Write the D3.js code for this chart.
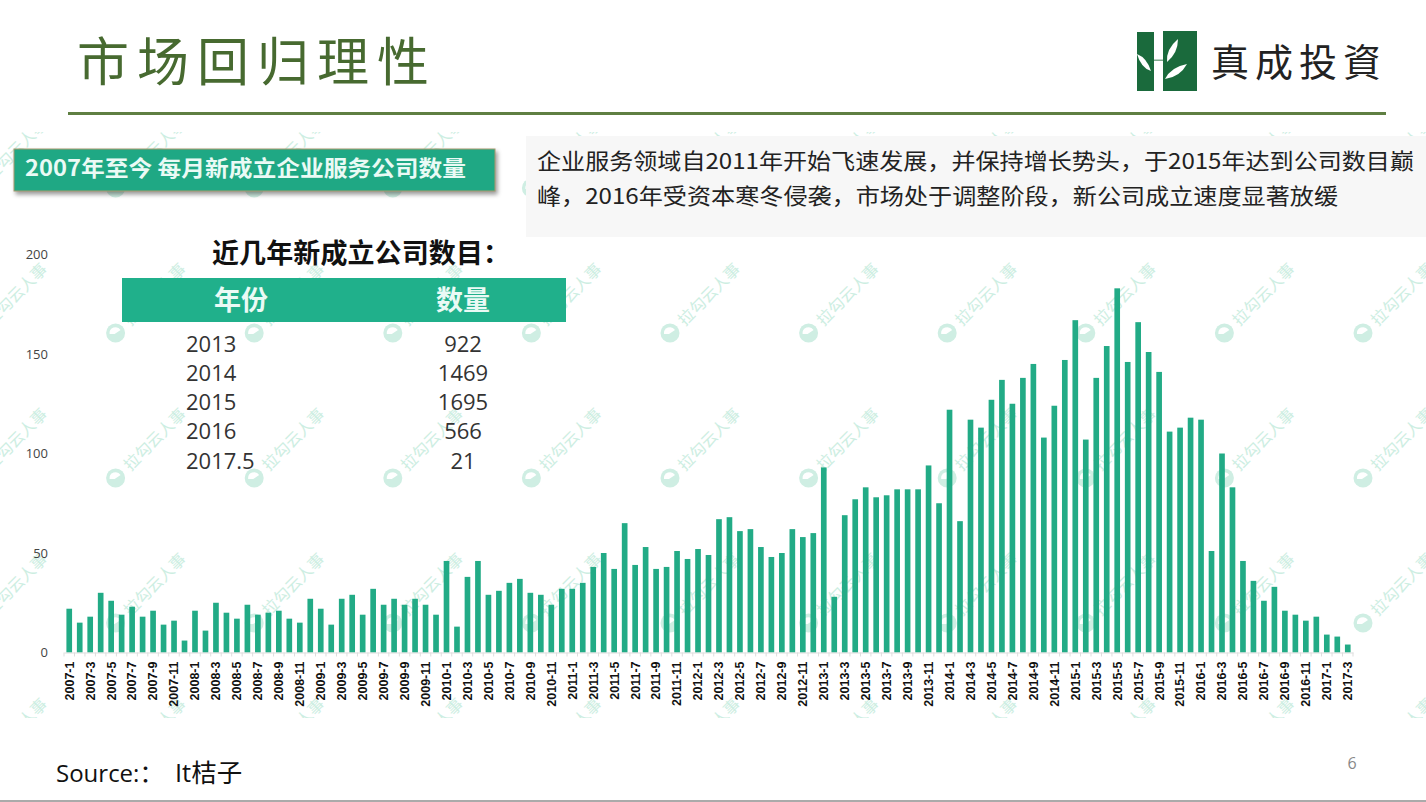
<!DOCTYPE html>
<html>
<head>
<meta charset="utf-8">
<style>
body { margin: 0; background: #fff; overflow: hidden; }
svg { display: block; }
text { font-family: "Open Sans", "Noto Sans CJK SC", sans-serif; }
.cjk { font-family: "Noto Sans CJK SC", sans-serif; }
</style>
<script src="https://cdnjs.cloudflare.com/ajax/libs/d3/7.8.5/d3.min.js"></script>
</head>
<body>
<div id="chart-area"></div>
<script>
// month labels, one per bar
let months = [
	'2007-1','2007-2','2007-3','2007-4','2007-5','2007-6','2007-7','2007-8','2007-9','2007-10','2007-11','2007-12',
	'2008-1','2008-2','2008-3','2008-4','2008-5','2008-6','2008-7','2008-8','2008-9','2008-10','2008-11','2008-12',
	'2009-1','2009-2','2009-3','2009-4','2009-5','2009-6','2009-7','2009-8','2009-9','2009-10','2009-11','2009-12',
	'2010-1','2010-2','2010-3','2010-4','2010-5','2010-6','2010-7','2010-8','2010-9','2010-10','2010-11','2010-12',
	'2011-1','2011-2','2011-3','2011-4','2011-5','2011-6','2011-7','2011-8','2011-9','2011-10','2011-11','2011-12',
	'2012-1','2012-2','2012-3','2012-4','2012-5','2012-6','2012-7','2012-8','2012-9','2012-10','2012-11','2012-12',
	'2013-1','2013-2','2013-3','2013-4','2013-5','2013-6','2013-7','2013-8','2013-9','2013-10','2013-11','2013-12',
	'2014-1','2014-2','2014-3','2014-4','2014-5','2014-6','2014-7','2014-8','2014-9','2014-10','2014-11','2014-12',
	'2015-1','2015-2','2015-3','2015-4','2015-5','2015-6','2015-7','2015-8','2015-9','2015-10','2015-11','2015-12',
	'2016-1','2016-2','2016-3','2016-4','2016-5','2016-6','2016-7','2016-8','2016-9','2016-10','2016-11','2016-12',
	'2017-1','2017-2','2017-3'
]

// new companies per month
let counts = [
	22, 15, 18, 30, 26, 19, 23, 18, 21, 14, 16, 6,
	21, 11, 25, 20, 17, 24, 19, 20, 21, 17, 15, 27,
	22, 14, 27, 29, 19, 32, 24, 27, 24, 27, 24, 19,
	46, 13, 38, 46, 29, 31, 35, 37, 30, 29, 24, 32,
	32, 35, 43, 50, 42, 65, 44, 53, 42, 43, 51, 47,
	52, 49, 67, 68, 61, 62, 53, 48, 50, 62, 58, 60,
	93, 28, 69, 77, 83, 78, 79, 82, 82, 82, 94, 75,
	122, 66, 117, 113, 127, 137, 125, 138, 145, 108, 124, 147,
	167, 107, 138, 154, 183, 146, 166, 151, 141, 111, 113, 118,
	117, 51, 100, 83, 46, 36, 26, 33, 21, 19, 16, 18,
	9, 8, 4
]

let yTicks = [0, 50, 100, 150, 200]

let tableYears = ['2013', '2014', '2015', '2016', '2017.5']
let tableCounts = [922, 1469, 1695, 566, 21]

let calloutLines = [
	'企业服务领域自2011年开始飞速发展，并保持增长势头，于2015年达到公司数目巅',
	'峰，2016年受资本寒冬侵袭，市场处于调整阶段，新公司成立速度显著放缓'
]

const green = '#22ab86'

let svg = d3.select('#chart-area').append('svg')
	.attr('width', 1426)
	.attr('height', 802)

svg.append('clipPath').attr('id', 'mark-clip')
	.append('rect')
	.attr('x', 0).attr('y', 132)
	.attr('width', 1426).attr('height', 586)

// WATERMARK

let markGroup = svg.append('g').attr('clip-path', 'url(#mark-clip)')

let markSpots = d3.cross(d3.range(-1, 10), d3.range(0, 5), (col, row) => ({
	x: 115.6 + col * 138.6,
	y: 188 + row * 145
}))

let marks = markGroup.selectAll('g')
	.data(markSpots)
	.enter().append('g')
	.attr('transform', d => 'translate(' + d.x + ', ' + d.y + ')')

marks.append('circle')
	.attr('r', 9.5)
	.attr('fill', '#cfeee3')

marks.append('path')
	.attr('d', 'M-6,1 A6,6 0 0 1 5,-3 L-1,1 Z')
	.attr('fill', '#fff')

marks.append('text')
	.attr('class', 'cjk')
	.attr('transform', 'rotate(-45)')
	.attr('x', 15)
	.attr('y', 6)
	.attr('font-size', 16)
	.attr('font-weight', 400)
	.attr('fill', '#cdeee2')
	.text('拉勾云人事')

// HEADER

svg.append('text')
	.attr('class', 'cjk')
	.attr('x', 77)
	.attr('y', 81)
	.attr('font-size', 52)
	.attr('font-weight', 400)
	.attr('letter-spacing', 8)
	.attr('fill', '#476a30')
	.text('市场回归理性')

svg.append('rect')
	.attr('x', 68).attr('y', 112)
	.attr('width', 1318).attr('height', 3)
	.attr('fill', '#5f7f42')

let logo = svg.append('g')
logo.append('rect').attr('x', 1137).attr('y', 32).attr('width', 17).attr('height', 59).attr('fill', '#1a6a3c')
logo.append('rect').attr('x', 1163).attr('y', 31).attr('width', 34).attr('height', 60).attr('fill', '#1a6a3c')
logo.append('rect').attr('x', 1154).attr('y', 59.5).attr('width', 9).attr('height', 1.5).attr('fill', '#7fa98e')
logo.append('path').attr('d', 'M1137,54 Q1147,58 1151,71 Q1141,68 1137,54 Z').attr('fill', '#fff')
logo.append('path').attr('d', 'M1178,39 Q1178,53 1167,62 Q1166,49 1178,39 Z').attr('fill', '#fff')
logo.append('path').attr('d', 'M1187,64 Q1180,77 1165,79 Q1171,67 1187,64 Z').attr('fill', '#fff')

svg.append('text')
	.attr('class', 'cjk')
	.attr('x', 1211)
	.attr('y', 76)
	.attr('font-size', 38)
	.attr('letter-spacing', 6)
	.attr('fill', '#222')
	.text('真成投資')

// BANNER

svg.append('rect')
	.attr('x', 14).attr('y', 149)
	.attr('width', 481).attr('height', 42)
	.attr('fill', '#1fa884')
	.attr('stroke', '#a89a6e')
	.attr('stroke-width', 1)
	.style('filter', 'drop-shadow(2px 3px 2px rgba(0,0,0,0.4))')

svg.append('text')
	.attr('class', 'cjk')
	.attr('x', 25)
	.attr('y', 176)
	.attr('font-size', 22)
	.attr('font-weight', 700)
	.attr('fill', '#eafaf5')
	.attr('textLength', 441)
	.attr('lengthAdjust', 'spacingAndGlyphs')
	.text('2007年至今 每月新成立企业服务公司数量')

// CALLOUT

svg.append('rect')
	.attr('x', 526).attr('y', 136)
	.attr('width', 900).attr('height', 101)
	.attr('fill', '#f7f7f7')

svg.selectAll('.callout')
	.data(calloutLines)
	.enter().append('text')
	.attr('class', 'callout cjk')
	.attr('x', 537)
	.attr('y', (d, i) => 169 + i * 35)
	.attr('font-size', 22)
	.attr('fill', '#222')
	.attr('textLength', (d, i) => i == 0 ? 877 : 801)
	.attr('lengthAdjust', 'spacingAndGlyphs')
	.text(d => d)

// CHART

let x = d3.scaleBand()
	.domain(months)
	.range([64, 1353])
	.paddingInner(0.46)
	.paddingOuter(0.23)

let y = d3.scaleLinear()
	.domain([0, 200])
	.range([652.5, 254.5])

let yAxisGroup = svg.append('g')
	.attr('class', 'y-axis')
	.attr('transform', 'translate(55, 0)')
	.call(d3.axisLeft(y).tickValues(yTicks).tickSize(0).tickPadding(7))

yAxisGroup.select('.domain').remove()
yAxisGroup.selectAll('text')
	.attr('font-size', 13)
	.attr('fill', '#444')

svg.selectAll('.edge')
	.data(months.concat('end'))
	.enter().append('line')
	.attr('class', 'edge')
	.attr('x1', (d, i) => 64 + i * x.step())
	.attr('x2', (d, i) => 64 + i * x.step())
	.attr('y1', y(0))
	.attr('y2', y(0) + 4)
	.attr('stroke', '#ddd')

svg.selectAll('.bar')
	.data(months)
	.enter().append('rect')
	.attr('class', 'bar')
	.attr('x', d => x(d))
	.attr('y', (d, i) => y(counts[i]))
	.attr('width', x.bandwidth())
	.attr('height', (d, i) => y(0) - y(counts[i]))
	.attr('fill', green)

let xAxisGroup = svg.append('g')
	.attr('class', 'x-axis')
	.attr('transform', 'translate(0, ' + y(0) + ')')
	.call(d3.axisBottom(x).tickValues(months.filter((d, i) => i % 2 == 0)).tickSize(0))

xAxisGroup.select('.domain')
	.attr('stroke', '#ddd')

xAxisGroup.selectAll('text')
	.attr('transform', 'rotate(-90)')
	.attr('x', -9)
	.attr('y', 0)
	.attr('dy', '0.35em')
	.attr('text-anchor', 'end')
	.style('font-family', '"Liberation Sans", sans-serif')
	.attr('font-size', 12.5)
	.attr('font-weight', 700)
	.attr('fill', '#111')

// TABLE

svg.append('text')
	.attr('class', 'cjk')
	.attr('x', 212)
	.attr('y', 263)
	.attr('font-size', 27)
	.attr('font-weight', 700)
	.attr('fill', '#111')
	.attr('textLength', 298)
	.text('近几年新成立公司数目：')

svg.append('rect')
	.attr('x', 122).attr('y', 278)
	.attr('width', 444).attr('height', 44)
	.attr('fill', '#20b08b')

svg.selectAll('.table-head')
	.data(['年份', '数量'])
	.enter().append('text')
	.attr('class', 'table-head cjk')
	.attr('x', (d, i) => i == 0 ? 241 : 463)
	.attr('y', 310)
	.attr('text-anchor', 'middle')
	.attr('font-size', 27)
	.attr('font-weight', 700)
	.attr('fill', '#eafaf5')
	.text(d => d)

svg.selectAll('.table-year')
	.data(tableYears)
	.enter().append('text')
	.attr('class', 'table-year')
	.attr('x', 186)
	.attr('y', (d, i) => 351.5 + i * 29.25)
	.attr('font-size', 22)
	.attr('fill', '#333')
	.text(d => d)

svg.selectAll('.table-count')
	.data(tableCounts)
	.enter().append('text')
	.attr('class', 'table-count')
	.attr('x', 463)
	.attr('y', (d, i) => 351.5 + i * 29.25)
	.attr('text-anchor', 'middle')
	.attr('font-size', 22)
	.attr('fill', '#333')
	.text(d => d)

// FOOTER

svg.append('text')
	.attr('x', 56)
	.attr('y', 782)
	.attr('font-size', 24)
	.attr('fill', '#111')
	.text('Source:：')

svg.append('text')
	.attr('x', 175)
	.attr('y', 782)
	.attr('font-size', 25.5)
	.attr('fill', '#111')
	.text('It桔子')

svg.append('text')
	.attr('x', 1352)
	.attr('y', 769)
	.attr('text-anchor', 'middle')
	.attr('font-size', 16)
	.attr('fill', '#888')
	.text('6')

svg.append('rect')
	.attr('x', 0).attr('y', 800)
	.attr('width', 1426).attr('height', 2)
	.attr('fill', '#aaa')
</script>
</body>
</html>
